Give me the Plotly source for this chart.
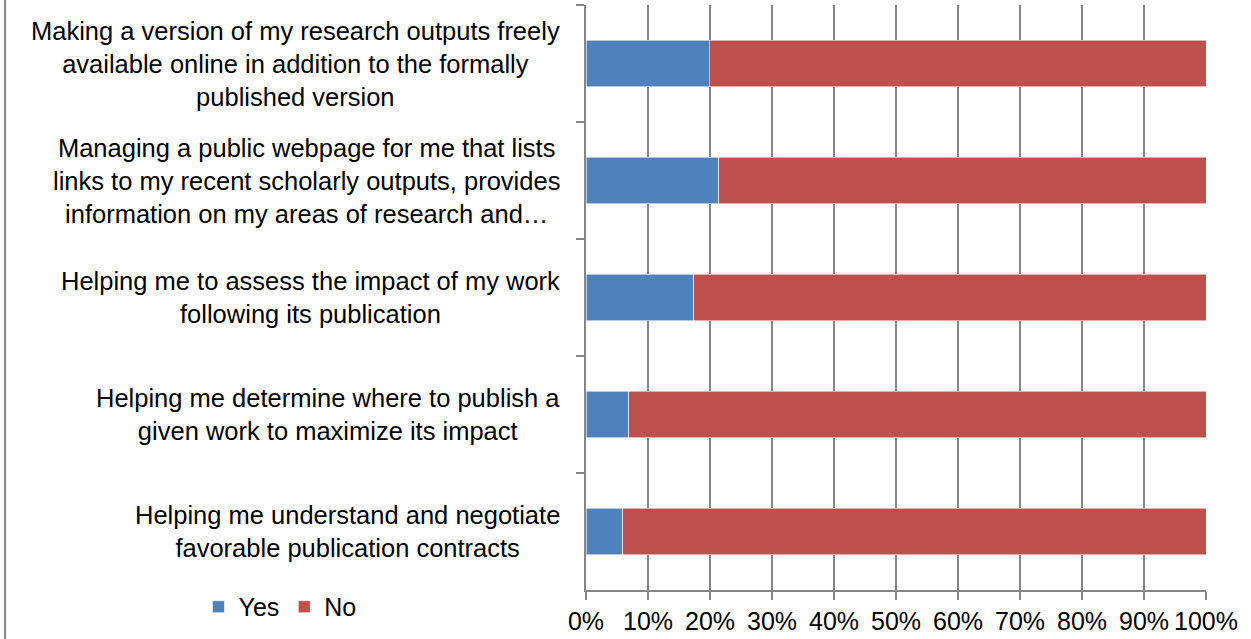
"""
Stacked 100% bar chart: support services researchers would use
"""

import plotly.graph_objects as go

# Data
categories = [
    "Making a version of my research outputs freely<br>available online in addition to the formally<br>published version",
    "Managing a public webpage for me that lists<br>links to my recent scholarly outputs, provides<br>information on my areas of research and…",
    "Helping me to assess the impact of my work<br>following its publication",
    "Helping me determine where to publish a<br>given work to maximize its impact",
    "Helping me understand and negotiate<br>favorable publication contracts",
]
yes_values = [19.9, 21.4, 17.4, 6.9, 5.9]
no_values = [100 - v for v in yes_values]
x_ticks = list(range(0, 101, 10))

BLUE = "#4F81BD"
RED = "#C0504D"
GRID = "#868686"
FONT = "Liberation Sans, Arial, sans-serif"

fig = go.Figure()

fig.add_trace(go.Bar(
    y=categories,
    x=yes_values,
    name="Yes",
    orientation="h",
    marker=dict(color=BLUE, line=dict(color="rgba(255,255,255,0.7)", width=0.8)),
))
fig.add_trace(go.Bar(
    y=categories,
    x=no_values,
    name="No",
    orientation="h",
    marker=dict(color=RED, line=dict(color="rgba(255,255,255,0.7)", width=0.8)),
))

# Category labels as annotations so the lines are centred within each block
annotations = []
for cat in categories:
    annotations.append(dict(
        x=0, xref="paper", xshift=-24, xanchor="right",
        y=cat, yref="y", yanchor="middle",
        text=cat, align="center", showarrow=False,
        font=dict(family=FONT, size=25.5, color="black"),
    ))

fig.update_layout(
    width=1251,
    height=639,
    barmode="stack",
    bargap=0.6,
    plot_bgcolor="white",
    paper_bgcolor="white",
    margin=dict(l=586, r=45, t=5, b=49, autoexpand=False),
    font=dict(family=FONT, size=25, color="black"),
    annotations=annotations,
    showlegend=True,
    legend=dict(
        orientation="h",
        x=-0.625, xanchor="left",
        y=-0.029, yanchor="middle",
        font=dict(family=FONT, size=25, color="black"),
        bgcolor="rgba(0,0,0,0)",
        traceorder="normal",
    ),
    shapes=[dict(
        type="line", xref="paper", yref="paper",
        x0=-0.937, x1=-0.937, y0=-0.2, y1=1.1,
        line=dict(color=GRID, width=2),
    )],
)

fig.update_xaxes(
    range=[0, 100],
    tickvals=x_ticks,
    ticktext=[f"{v}%" for v in x_ticks],
    showgrid=True,
    gridcolor=GRID,
    gridwidth=2,
    showline=True,
    linecolor=GRID,
    linewidth=2,
    ticks="outside",
    ticklen=8,
    tickwidth=2,
    tickcolor=GRID,
    zeroline=False,
    automargin=False,
    tickfont=dict(family=FONT, size=25, color="black"),
)

fig.update_yaxes(
    autorange="reversed",
    showticklabels=False,
    tickson="boundaries",
    ticks="outside",
    ticklen=8,
    tickwidth=2,
    tickcolor=GRID,
    showline=True,
    linecolor=GRID,
    linewidth=2,
    showgrid=False,
    automargin=False,
)

# drop the default page margin so the figure sits at the window's corner
fig.write_html(
    "out.html",
    config={"displayModeBar": False},
    post_script="document.body.style.margin='0';",
)
